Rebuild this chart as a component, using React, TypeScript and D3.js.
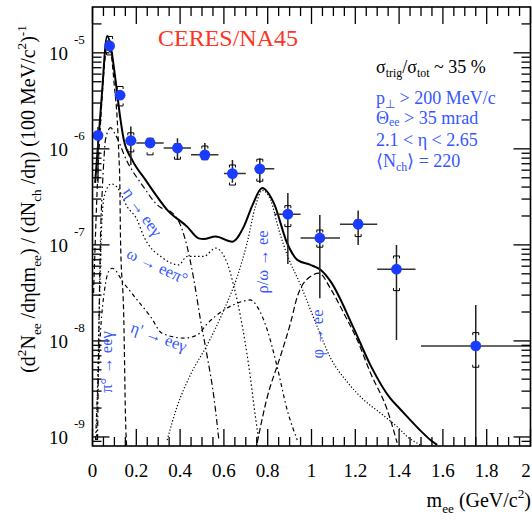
import React from "react";
import * as d3 from "d3";

const W = 532;
const H = 523;
const X0 = 92.5;
const X1 = 530.5;
const Y0 = 7;
const Y1 = 446;

// axis ticks
const xTickValues = [0, 0.2, 0.4, 0.6, 0.8, 1, 1.2, 1.4, 1.6, 1.8, 2];
const xTickLabels = ["0", "0.2", "0.4", "0.6", "0.8", "1", "1.2", "1.4", "1.6", "1.8", "2"];
const yDecadeExps = [-9, -8, -7, -6, -5];
const yDecadeLabels = ["-9", "-8", "-7", "-6", "-5"];

// data points (CERES/NA45)
const pointMass = [0.025, 0.078, 0.126, 0.175, 0.263, 0.388, 0.513, 0.639, 0.764, 0.892, 1.038, 1.213, 1.388, 1.75];
const pointYield = [1.38e-6, 1.18e-5, 3.62e-6, 1.22e-6, 1.15e-6, 1.02e-6, 8.66e-7, 5.53e-7, 6.19e-7, 2.09e-7, 1.18e-7, 1.64e-7, 5.58e-8, 8.87e-9];
const binLow = [0.025, 0.078, 0.126, 0.15, 0.2, 0.325, 0.45, 0.6, 0.74, 0.83, 0.95, 1.13, 1.3, 1.5];
const binHigh = [0.025, 0.078, 0.126, 0.2, 0.325, 0.45, 0.575, 0.7, 0.83, 0.95, 1.13, 1.3, 1.475, 2.0];
const statLow = [4.43e-7, 1.02e-5, 3.3e-6, 6.8e-7, 1.05e-6, 7.7e-7, 7.7e-7, 4.43e-7, 4.4e-7, 6.34e-8, 2.79e-8, 1.0e-7, 1.02e-8, 1e-10];
const statHigh = [1.69e-6, 1.36e-5, 3.95e-6, 1.71e-6, 1.27e-6, 1.29e-6, 1.15e-6, 7.67e-7, 8.0e-7, 3.46e-7, 2.05e-7, 2.28e-7, 1.0e-7, 2.37e-8];
const sysLow = [1.38e-6, 9.5e-6, 2.8e-6, 9.3e-7, 8.66e-7, 7.8e-7, 7.7e-7, 4.2e-7, 4.6e-7, 1.55e-7, 9.46e-8, 1.22e-7, 3.34e-8, 5.32e-9];
const sysHigh = [1.38e-6, 1.48e-5, 4.46e-6, 1.47e-6, 1.29e-6, 1.13e-6, 1.07e-6, 6.8e-7, 7.8e-7, 2.56e-7, 1.43e-7, 1.82e-7, 7.67e-8, 1.22e-8];

// cocktail: total
const totalMass = [0.012, 0.041, 0.067, 0.082, 0.105, 0.128, 0.143, 0.181, 0.242, 0.295, 0.341, 0.432, 0.485, 0.508, 0.562, 0.638, 0.691, 0.731, 0.775, 0.828, 0.889, 0.935, 0.995, 1.041, 1.087, 1.193, 1.269, 1.361, 1.4, 1.44, 1.5, 1.543, 1.574];
const totalYield = [4.43e-7, 3.24e-6, 1.5e-5, 1.21e-5, 5.24e-6, 2.0e-6, 1.24e-6, 7.67e-7, 4.75e-7, 3.18e-7, 2.32e-7, 1.55e-7, 1.17e-7, 1.15e-7, 1.22e-7, 1.08e-7, 1.55e-7, 2.61e-7, 3.9e-7, 2.72e-7, 1.04e-7, 6.98e-8, 6.19e-8, 5.5e-8, 4.17e-8, 1.35e-8, 5.6e-9, 2.5e-9, 2.0e-9, 1.6e-9, 1.15e-9, 9.31e-10, 8.26e-10];

// pi0 -> ee gamma
const pi0Mass = [0.005, 0.02, 0.04, 0.06, 0.072, 0.085, 0.1, 0.113, 0.12, 0.125, 0.128, 0.143, 0.151, 0.156];
const pi0Yield = [3.16e-8, 3.16e-7, 2.51e-6, 1.0e-5, 1.38e-5, 1.0e-5, 4.47e-6, 2.0e-6, 8.91e-7, 4.07e-7, 1.12e-7, 1.66e-8, 1.51e-9, 7.9e-10];

// eta -> ee gamma
const etaMass = [0.023, 0.037, 0.044, 0.052, 0.059, 0.082, 0.105, 0.158, 0.227, 0.311, 0.348, 0.41, 0.432, 0.463, 0.493, 0.524, 0.554, 0.577];
const etaYield = [9.3e-10, 1.33e-7, 3.47e-7, 7.67e-7, 1.24e-6, 1.66e-6, 1.4e-6, 7.4e-7, 4.2e-7, 2.45e-7, 2.3e-7, 1.43e-7, 9.6e-8, 4.32e-8, 1.66e-8, 6.85e-9, 2.63e-9, 9.3e-10];

// omega -> ee pi0
const omDalMass = [0.018, 0.032, 0.041, 0.055, 0.085, 0.113, 0.158, 0.204, 0.234, 0.25, 0.311, 0.394, 0.432, 0.508, 0.562, 0.615, 0.644, 0.676, 0.714, 0.744, 0.759];
const omDalYield = [9.3e-10, 2.69e-8, 1.45e-7, 3.31e-7, 4.32e-7, 3.98e-7, 2.51e-7, 1.82e-7, 1.23e-7, 1.05e-7, 7.59e-8, 6.19e-8, 7.59e-8, 7.59e-8, 9.25e-8, 6.46e-8, 3.83e-8, 1.79e-8, 5.4e-9, 1.62e-9, 9.3e-10];

// eta' -> ee gamma
const etaPMass = [0.014, 0.037, 0.055, 0.073, 0.09, 0.143, 0.204, 0.265, 0.318, 0.417, 0.478, 0.524, 0.6, 0.661, 0.721, 0.752, 0.798, 0.843, 0.889, 0.935];
const etaPYield = [9.3e-10, 1.3e-8, 3.39e-8, 5.25e-8, 5.71e-8, 3.98e-8, 2.67e-8, 1.79e-8, 1.2e-8, 1.07e-8, 1.15e-8, 1.51e-8, 2.1e-8, 2.47e-8, 2.67e-8, 2.28e-8, 1.3e-8, 5.4e-9, 1.91e-9, 9.3e-10];

// rho/omega -> ee
const rhoMass = [0.341, 0.387, 0.447, 0.524, 0.6, 0.661, 0.706, 0.744, 0.775, 0.813, 0.851, 0.889, 0.95, 1.026, 1.087, 1.163, 1.239, 1.315, 1.399, 1.437, 1.498];
const rhoYield = [9.3e-10, 2.09e-9, 4.43e-9, 9.12e-9, 2.1e-8, 4.68e-8, 1.05e-7, 2.51e-7, 3.7e-7, 2.95e-7, 1.43e-7, 7.87e-8, 3.83e-8, 1.41e-8, 6.65e-9, 3.74e-9, 2.43e-9, 1.77e-9, 1.23e-9, 1.01e-9, 8.26e-10];

// phi -> ee
const phiMass = [0.752, 0.795, 0.858, 0.904, 0.935, 0.995, 1.035, 1.087, 1.147, 1.209, 1.269, 1.346, 1.391];
const phiYield = [8.7e-10, 2.45e-9, 6.92e-9, 1.53e-8, 2.88e-8, 4.68e-8, 5.07e-8, 3.5e-8, 1.95e-8, 1.02e-8, 4.65e-9, 1.91e-9, 8.7e-10];

const SERIF = "'Liberation Serif', 'Times New Roman', Times, serif";
const BLUE_MARK = "#1a3cff";
const BLUE_TEXT = "#3557ff";

type Seg = { t: string; k?: "sub" | "sup" };

function Rich(props: { segs: Seg[]; fs: number; sub?: number; [key: string]: any }) {
  const { segs, fs, sub = 0.3, ...rest } = props;
  let cur = 0;
  return (
    <text fontSize={fs} {...rest}>
      {segs.map((s, i) => {
        const target = s.k === "sub" ? fs * sub : s.k === "sup" ? -fs * 0.45 : 0;
        const dy = target - cur;
        cur = target;
        return (
          <tspan key={i} dy={dy} fontSize={s.k ? fs * 0.66 : fs}>
            {s.t}
          </tspan>
        );
      })}
    </text>
  );
}

export default function App() {
  const x = d3.scaleLinear().domain([0, 2]).range([X0, X1]);
  const y = d3.scaleLog().domain([8.05e-10, 3.0e-5]).range([Y1, Y0]);

  const mkLine = (xs: number[], ys: number[]) =>
    d3
      .line<number>()
      .x((_, i) => x(xs[i]))
      .y((_, i) => y(ys[i]))
      .curve(d3.curveMonotoneX)(xs) || "";

  const xMinor: number[] = d3.range(0, 2.0001, 0.05).filter((v) => Math.abs(v / 0.2 - Math.round(v / 0.2)) > 1e-6);
  const yMinor: number[] = [];
  for (let e = -10; e <= -5; e++) {
    for (let m = 2; m <= 9; m++) {
      const v = m * Math.pow(10, e);
      if (v >= 8.05e-10 && v <= 3.0e-5) yMinor.push(v);
    }
  }
  const MAJ = 17;
  const MIN = 9;

  const curves = [
    { xs: pi0Mass, ys: pi0Yield, dash: "5,3", w: 1.2 },
    { xs: etaMass, ys: etaYield, dash: "6,3,1.5,3", w: 1.2 },
    { xs: omDalMass, ys: omDalYield, dash: "1.5,2.5", w: 1.2 },
    { xs: etaPMass, ys: etaPYield, dash: "4,3,1.5,3", w: 1.2 },
    { xs: rhoMass, ys: rhoYield, dash: "1.2,2", w: 1.2 },
    { xs: phiMass, ys: phiYield, dash: "6,3", w: 1.2 },
  ];

  return (
    <svg
      width={W}
      height={H}
      style={{ position: "absolute", left: 0, top: 0, background: "#fff" }}
      fontFamily={SERIF}
    >
      <defs>
        <clipPath id="frame">
          <rect x={X0} y={Y0} width={X1 - X0} height={Y1 - Y0} />
        </clipPath>
      </defs>
      <rect x={0} y={0} width={W} height={H} fill="#fff" />

      {/* curves */}
      <g clipPath="url(#frame)" fill="none" stroke="#000">
        {curves.map((c, i) => (
          <path key={i} d={mkLine(c.xs, c.ys)} strokeWidth={c.w} strokeDasharray={c.dash} />
        ))}
        <path d={mkLine(totalMass, totalYield)} strokeWidth={2} />
      </g>

      {/* error bars */}
      <g clipPath="url(#frame)">
        {pointMass.map((m, i) => {
          const cx = x(m);
          const cy = y(pointYield[i]);
          const sh = y(sysHigh[i]);
          const sl = y(sysLow[i]);
          return (
            <g key={i}>
              {binHigh[i] > binLow[i] && (
                <line x1={x(binLow[i])} x2={x(binHigh[i])} y1={cy} y2={cy} stroke="#333" strokeWidth={1.5} />
              )}
              <line x1={cx} x2={cx} y1={y(statLow[i])} y2={y(statHigh[i])} stroke="#222" strokeWidth={1.5} />
              {sysHigh[i] > pointYield[i] && (
                <path d={`M${cx - 3},${sh + 2.5}V${sh}H${cx + 3}V${sh + 2.5}`} fill="none" stroke="#000" strokeWidth={1} />
              )}
              {sysLow[i] < pointYield[i] && (
                <path d={`M${cx - 3},${sl - 2.5}V${sl}H${cx + 3}V${sl - 2.5}`} fill="none" stroke="#000" strokeWidth={1} />
              )}
            </g>
          );
        })}
        {pointMass.map((m, i) => (
          <circle key={i} cx={x(m)} cy={y(pointYield[i])} r={5.4} fill={BLUE_MARK} />
        ))}
      </g>

      {/* frame and ticks */}
      <g stroke="#000" strokeWidth={1.3}>
        <rect x={X0} y={Y0} width={X1 - X0} height={Y1 - Y0} fill="none" strokeWidth={1.6} />
        {xTickValues.map((v, i) => (
          <g key={"xm" + i}>
            <line x1={x(v)} x2={x(v)} y1={Y1} y2={Y1 - MAJ} />
            <line x1={x(v)} x2={x(v)} y1={Y0} y2={Y0 + MAJ} />
          </g>
        ))}
        {xMinor.map((v, i) => (
          <g key={"xn" + i}>
            <line x1={x(v)} x2={x(v)} y1={Y1} y2={Y1 - MIN} />
            <line x1={x(v)} x2={x(v)} y1={Y0} y2={Y0 + MIN} />
          </g>
        ))}
        {yDecadeExps.map((e, i) => (
          <g key={"ym" + i}>
            <line x1={X0} x2={X0 + MAJ} y1={y(Math.pow(10, e))} y2={y(Math.pow(10, e))} />
            <line x1={X1} x2={X1 - MAJ} y1={y(Math.pow(10, e))} y2={y(Math.pow(10, e))} />
          </g>
        ))}
        {yMinor.map((v, i) => (
          <g key={"yn" + i}>
            <line x1={X0} x2={X0 + MIN} y1={y(v)} y2={y(v)} />
            <line x1={X1} x2={X1 - MIN} y1={y(v)} y2={y(v)} />
          </g>
        ))}
      </g>

      {/* tick labels */}
      <g fontSize={19} fill="#000">
        {xTickValues.map((v, i) => (
          <text key={i} x={Math.min(x(v), 526)} y={477} textAnchor="middle">
            {xTickLabels[i]}
          </text>
        ))}
        {yDecadeExps.map((e, i) => {
          const ty = y(Math.pow(10, e));
          return (
            <g key={i}>
              <text x={68} y={ty + 7} textAnchor="end">
                10
              </text>
              <text x={74} y={ty - 9} fontSize={13}>
                {yDecadeLabels[i]}
              </text>
            </g>
          );
        })}
      </g>

      {/* axis titles */}
      <Rich
        fs={20}
        x={531}
        y={507}
        textAnchor="end"
        segs={[{ t: "m" }, { t: "ee", k: "sub" }, { t: " (GeV/c" }, { t: "2", k: "sup" }, { t: ")" }]}
      />
      <Rich
        fs={20}
        transform="translate(35,199) rotate(-90)"
        textAnchor="middle"
        segs={[
          { t: "(d" },
          { t: "2", k: "sup" },
          { t: "N" },
          { t: "ee", k: "sub" },
          { t: " /d\u03B7dm" },
          { t: "ee", k: "sub" },
          { t: ") / (dN" },
          { t: "ch", k: "sub" },
          { t: " /d\u03B7) (100 MeV/c" },
          { t: "2", k: "sup" },
          { t: ")" },
          { t: "-1", k: "sup" },
        ]}
      />

      {/* header texts */}
      <text x={158} y={46} fontSize={24} fill="#ff3322">
        CERES/NA45
      </text>
      <Rich
        fs={18}
        sub={0.2}
        x={376}
        y={73}
        fill="#000"
        segs={[{ t: "\u03C3" }, { t: "trig", k: "sub" }, { t: "/\u03C3" }, { t: "tot", k: "sub" }, { t: " ~ 35 %" }]}
      />
      <g fill={BLUE_TEXT}>
        <Rich fs={18} sub={0.2} x={376} y={104} segs={[{ t: "p" }, { t: "\u22A5", k: "sub" }, { t: " > 200 MeV/c" }]} />
        <Rich fs={18} sub={0.1} x={376} y={124} segs={[{ t: "\u0398" }, { t: "ee", k: "sub" }, { t: " > 35 mrad" }]} />
        <text x={376} y={146} fontSize={18}>
          2.1 &lt; {"\u03B7"} &lt; 2.65
        </text>
        <Rich fs={18} sub={0.2} x={376} y={167} segs={[{ t: "\u27E8N" }, { t: "ch", k: "sub" }, { t: "\u27E9 = 220" }]} />
      </g>

      {/* curve labels */}
      <g fill={BLUE_TEXT} fontSize={16.5}>
        <text transform="translate(112,362) rotate(-90)" textAnchor="middle">
          {"\u03C0\u00B0 \u2192 ee\u03B3"}
        </text>
        <text transform="translate(138,215) rotate(55)" textAnchor="middle">
          {"\u03B7 \u2192 ee\u03B3"}
        </text>
        <text transform="translate(155,271) rotate(25)" textAnchor="middle">
          {"\u03C9 \u2192 ee\u03C0\u00B0"}
        </text>
        <text transform="translate(157,342) rotate(20)" textAnchor="middle">
          {"\u03B7' \u2192 ee\u03B3"}
        </text>
        <text transform="translate(268,262) rotate(-90)" textAnchor="middle">
          {"\u03C1/\u03C9 \u2192 ee"}
        </text>
        <text transform="translate(323,334) rotate(-90)" textAnchor="middle">
          {"\u03C6 \u2192 ee"}
        </text>
      </g>
    </svg>
  );
}
